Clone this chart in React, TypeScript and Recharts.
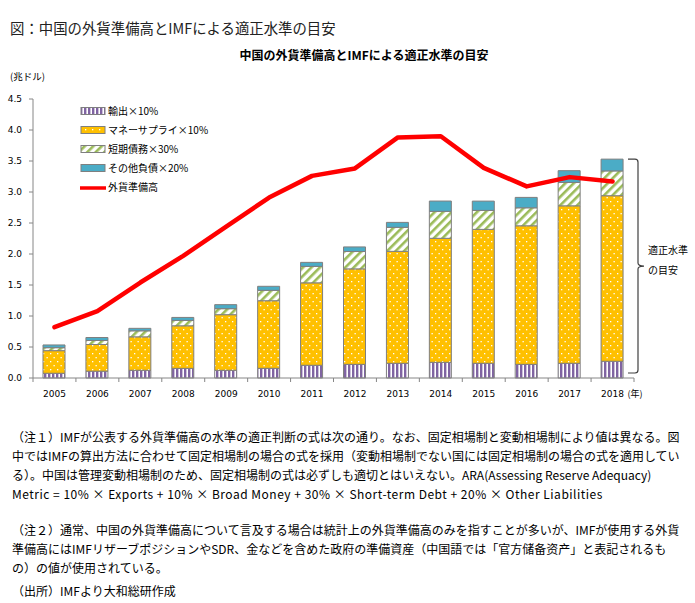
import React from 'react';
import { ComposedChart, Bar, Line, XAxis, YAxis } from 'recharts';

// ---- data (兆ドル) ----
const YEARS = ['2005', '2006', '2007', '2008', '2009', '2010', '2011', '2012', '2013', '2014', '2015', '2016', '2017', '2018'];
const EXPORTS = [0.076, 0.11, 0.124, 0.155, 0.124, 0.156, 0.205, 0.22, 0.237, 0.253, 0.237, 0.22, 0.237, 0.27];
const MONEY = [0.365, 0.43, 0.54, 0.687, 0.897, 1.09, 1.33, 1.54, 1.806, 2.0, 2.16, 2.235, 2.54, 2.67];
const SHORT_DEBT = [0.048, 0.065, 0.097, 0.087, 0.097, 0.168, 0.265, 0.28, 0.387, 0.435, 0.306, 0.29, 0.377, 0.4];
const OTHER = [0.044, 0.048, 0.04, 0.048, 0.065, 0.065, 0.065, 0.074, 0.08, 0.166, 0.15, 0.168, 0.19, 0.19];
const RESERVES = [0.82, 1.08, 1.54, 1.97, 2.44, 2.91, 3.26, 3.38, 3.88, 3.9, 3.39, 3.09, 3.24, 3.17];
const Y_TICKS = [0, 0.5, 1.0, 1.5, 2.0, 2.5, 3.0, 3.5, 4.0, 4.5];
const Y_MAX = 4.5;

const SERIES_NAMES = ['輸出×10%', 'マネーサプライ×10%', '短期債務×30%', 'その他負債×20%', '外貨準備高'];
const CAPTION = '図：中国の外貨準備高とIMFによる適正水準の目安';
const TITLE = '中国の外貨準備高とIMFによる適正水準の目安';
const UNIT = '(兆ドル)';
const YEAR_UNIT = '(年)';
const BRACKET_LABEL = ['適正水準', 'の目安'];
const NOTES = [
  '（注１）IMFが公表する外貨準備高の水準の適正判断の式は次の通り。なお、固定相場制と変動相場制により値は異なる。図',
  '中ではIMFの算出方法に合わせて固定相場制の場合の式を採用（変動相場制でない国には固定相場制の場合の式を適用してい',
  'る）。中国は管理変動相場制のため、固定相場制の式は必ずしも適切とはいえない。ARA(Assessing Reserve Adequacy)',
];
const METRIC = 'Metric = 10% × Exports + 10% × Broad Money + 30% × Short-term Debt + 20% × Other Liabilities';
const NOTES2 = [
  '（注２）通常、中国の外貨準備高について言及する場合は統計上の外貨準備高のみを指すことが多いが、IMFが使用する外貨',
  '準備高にはIMFリザーブポジションやSDR、金などを含めた政府の準備資産（中国語では「官方储备资产」と表記されるも',
  'の）の値が使用されている。',
];
const SOURCE = '（出所）IMFより大和総研作成';

const data = YEARS.map((year, i) => ({
  year,
  exports: EXPORTS[i],
  money: MONEY[i],
  shortDebt: SHORT_DEBT[i],
  other: OTHER[i],
  reserves: RESERVES[i],
}));

// ---- layout / style ----
const W = 695;
const CH = 400;
const M_TOP = 99;
const M_RIGHT = 61;
const Y_AXIS_W = 33;
const X_AXIS_H = 22;
const PLOT_BOTTOM = CH - X_AXIS_H;
const yPix = (v: number) => M_TOP + (1 - v / Y_MAX) * (PLOT_BOTTOM - M_TOP);

const JP = '"Noto Sans CJK JP", "Noto Sans", sans-serif';
const NUM = '"DejaVu Sans", sans-serif';
const AXIS = '#868686';
const BAR_STROKE = '#7F7F7F';
const PURPLE = '#8064A2';
const GOLD = '#FFC000';
const GREEN = '#9BBB59';
const TEAL = '#4BACC6';
const RED = '#FF0000';

const Patterns = ({ p }: { p: string }) => (
  <defs>
    <pattern id={p + 'exp'} width="4" height="4" patternUnits="userSpaceOnUse">
      <rect width="4" height="4" fill="#fff" />
      <rect width="2.4" height="4" fill={PURPLE} />
    </pattern>
    <pattern id={p + 'money'} width="7" height="8" patternUnits="userSpaceOnUse">
      <rect width="7" height="8" fill={GOLD} />
      <rect x="1" y="1" width="1.3" height="1.3" fill="#fff" />
      <rect x="4.5" y="5" width="1.3" height="1.3" fill="#fff" />
    </pattern>
    <pattern id={p + 'short'} width="6" height="6" patternUnits="userSpaceOnUse" patternTransform="rotate(45)">
      <rect width="6" height="6" fill="#fff" />
      <rect width="2.6" height="6" fill={GREEN} />
    </pattern>
  </defs>
);

const YearTick = (props: any) => {
  const { x, y, payload, index } = props;
  const off = payload && payload.offset ? payload.offset : 0;
  const last = index === YEARS.length - 1;
  return (
    <g>
      <line x1={x - off} x2={x - off} y1={y} y2={y + 4} stroke={AXIS} />
      {last && <line x1={x + off} x2={x + off} y1={y} y2={y + 4} stroke={AXIS} />}
      <text x={x} y={y + 19} textAnchor="middle" fontSize={9} fontFamily={NUM} fill="#000">
        {payload.value}
      </text>
      {last && (
        <text x={x + 15} y={y + 19} textAnchor="start" fontSize={9} fontFamily={JP} fill="#000">
          {YEAR_UNIT}
        </text>
      )}
    </g>
  );
};

const legendFills = ['url(#lg-exp)', 'url(#lg-money)', 'url(#lg-short)', TEAL];

export default function App() {
  const last = YEARS.length - 1;
  const total2018 = EXPORTS[last] + MONEY[last] + SHORT_DEBT[last] + OTHER[last];
  const bTop = yPix(total2018);
  const bBot = yPix(0) - 5;
  const bMid = (bTop + bBot) / 2;
  const bx = 638;

  return (
    <div style={{ position: 'absolute', left: 0, top: 0, width: W, height: 603, background: '#fff', fontFamily: JP, color: '#000' }}>
      <div style={{ position: 'absolute', left: 10, top: 18, fontSize: 14.4, lineHeight: '20px', whiteSpace: 'nowrap', color: '#222' }}>
        {CAPTION}
      </div>
      <div style={{ position: 'absolute', left: 364, top: 46, transform: 'translateX(-50%)', fontSize: 12, fontWeight: 'bold', lineHeight: '18px', whiteSpace: 'nowrap' }}>
        {TITLE}
      </div>
      <div style={{ position: 'absolute', left: 10, top: 69, fontSize: 9.5, lineHeight: '14px', whiteSpace: 'nowrap' }}>{UNIT}</div>

      <div style={{ position: 'absolute', left: 0, top: 0 }}>
        <ComposedChart
          width={W}
          height={CH}
          data={data}
          margin={{ top: M_TOP, right: M_RIGHT, bottom: 0, left: 0 }}
          barSize={22}
        >
          <Patterns p="c-" />
          <XAxis
            dataKey="year"
            height={X_AXIS_H}
            tickLine={false}
            tickSize={0}
            tickMargin={0}
            axisLine={{ stroke: AXIS }}
            interval={0}
            tick={<YearTick />}
          />
          <YAxis
            width={Y_AXIS_W}
            domain={[0, Y_MAX]}
            ticks={Y_TICKS}
            interval={0}
            tickFormatter={(v: number) => v.toFixed(1)}
            tickSize={4}
            tickMargin={7}
            axisLine={{ stroke: AXIS }}
            tickLine={{ stroke: AXIS }}
            tick={{ fontSize: 9, fontFamily: NUM, fill: '#000' }}
          />
          <Bar dataKey="exports" stackId="s" fill="url(#c-exp)" stroke={BAR_STROKE} strokeWidth={1} isAnimationActive={false} />
          <Bar dataKey="money" stackId="s" fill="url(#c-money)" stroke={BAR_STROKE} strokeWidth={1} isAnimationActive={false} />
          <Bar dataKey="shortDebt" stackId="s" fill="url(#c-short)" stroke={BAR_STROKE} strokeWidth={1} isAnimationActive={false} />
          <Bar dataKey="other" stackId="s" fill={TEAL} stroke={BAR_STROKE} strokeWidth={1} isAnimationActive={false} />
          <Line
            dataKey="reserves"
            type="linear"
            stroke={RED}
            strokeWidth={4.5}
            strokeLinecap="round"
            strokeLinejoin="round"
            dot={false}
            activeDot={false}
            isAnimationActive={false}
          />
        </ComposedChart>
      </div>

      {/* legend + bracket annotation */}
      <svg width={W} height={CH} style={{ position: 'absolute', left: 0, top: 0, pointerEvents: 'none' }}>
        <Patterns p="lg-" />
        {SERIES_NAMES.map((name, i) => {
          const cy = 111 + i * 19;
          return (
            <g key={name}>
              {i < 4 ? (
                <rect x={81} y={cy - 3.5} width={24} height={7} fill={legendFills[i]} stroke={BAR_STROKE} strokeWidth={1} />
              ) : (
                <line x1={80} x2={106} y1={cy + 1} y2={cy + 1} stroke={RED} strokeWidth={3.5} />
              )}
              <text x={108} y={cy + 3.5} fontSize={10} fontFamily={JP} fill="#000">
                {name}
              </text>
            </g>
          );
        })}
        <path
          d={`M ${bx - 10} ${bTop} L ${bx - 3} ${bTop} Q ${bx} ${bTop} ${bx} ${bTop + 3} L ${bx} ${bMid - 3} Q ${bx} ${bMid} ${bx + 6} ${bMid} Q ${bx} ${bMid} ${bx} ${bMid + 3} L ${bx} ${bBot - 3} Q ${bx} ${bBot} ${bx - 3} ${bBot} L ${bx - 10} ${bBot}`}
          fill="none"
          stroke="#404040"
          strokeWidth={1.2}
        />
        {BRACKET_LABEL.map((t, i) => (
          <text key={t} x={648} y={bMid - 12 + i * 20} fontSize={10} fontFamily={JP} fill="#000">
            {t}
          </text>
        ))}
      </svg>

      {/* notes */}
      <div style={{ position: 'absolute', left: 12, top: 427, fontSize: 12, lineHeight: '19px', whiteSpace: 'nowrap' }}>
        {NOTES.map((l) => (
          <div key={l}>{l}</div>
        ))}
        <div style={{ letterSpacing: '0.5px' }}>{METRIC}</div>
      </div>
      <div style={{ position: 'absolute', left: 12, top: 520, fontSize: 12, lineHeight: '19px', whiteSpace: 'nowrap' }}>
        {NOTES2.map((l) => (
          <div key={l}>{l}</div>
        ))}
      </div>
      <div style={{ position: 'absolute', left: 12, top: 581, fontSize: 12, lineHeight: '19px', whiteSpace: 'nowrap' }}>{SOURCE}</div>
    </div>
  );
}
